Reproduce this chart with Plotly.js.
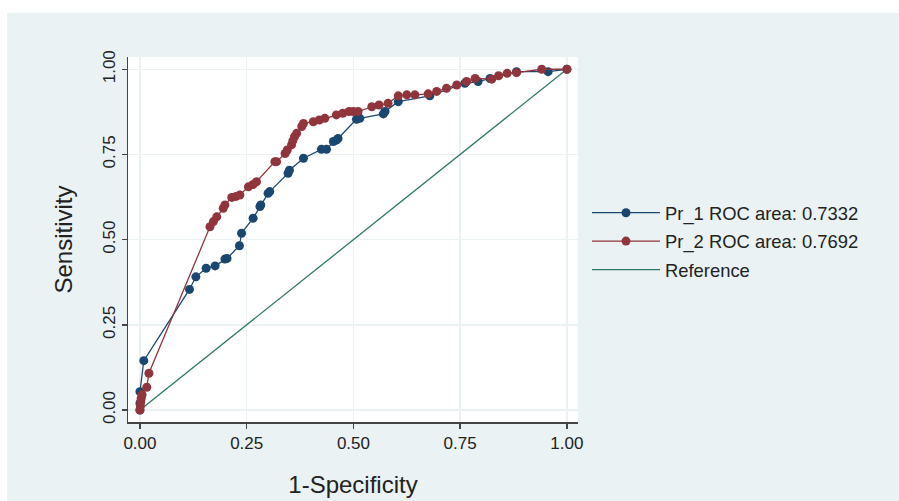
<!DOCTYPE html>
<html>
<head>
<meta charset="utf-8">
<script src="https://cdn.plot.ly/plotly-3.0.1.min.js"></script>
<style>
  html, body { margin: 0; padding: 0; background: #ffffff; }
  #chart { position: absolute; left: 7px; top: 13px; width: 892px; height: 488px; }
</style>
</head>
<body>
<div id="chart"></div>
<script>
// ---- Data ----
const fpr1 = [0, 0, 0, 0.009, 0.116, 0.131, 0.155, 0.176, 0.199, 0.204, 0.233, 0.238, 0.265, 0.281, 0.283, 0.300, 0.304, 0.347, 0.350, 0.383, 0.425, 0.437, 0.453, 0.460, 0.464, 0.507, 0.515, 0.570, 0.574, 0.605, 0.679, 0.761, 0.792, 0.820, 0.882, 0.956, 1];
const tpr1 = [0, 0.020, 0.054, 0.145, 0.354, 0.391, 0.416, 0.423, 0.443, 0.445, 0.482, 0.519, 0.563, 0.597, 0.602, 0.636, 0.641, 0.695, 0.704, 0.739, 0.765, 0.765, 0.788, 0.792, 0.797, 0.853, 0.856, 0.869, 0.876, 0.905, 0.922, 0.959, 0.964, 0.973, 0.993, 0.993, 1];

const fpr2 = [0, 0.001, 0.002, 0.003, 0.005, 0.016, 0.021, 0.164, 0.172, 0.180, 0.195, 0.199, 0.215, 0.225, 0.234, 0.254, 0.265, 0.273, 0.316, 0.320, 0.340, 0.345, 0.355, 0.358, 0.362, 0.367, 0.379, 0.383, 0.406, 0.420, 0.433, 0.460, 0.475, 0.490, 0.500, 0.511, 0.543, 0.560, 0.581, 0.605, 0.625, 0.644, 0.675, 0.695, 0.718, 0.742, 0.765, 0.785, 0.824, 0.840, 0.860, 0.882, 0.941, 1];
const tpr2 = [0, 0.012, 0.025, 0.035, 0.045, 0.067, 0.108, 0.538, 0.553, 0.567, 0.592, 0.602, 0.624, 0.627, 0.631, 0.655, 0.662, 0.670, 0.729, 0.729, 0.753, 0.763, 0.778, 0.790, 0.802, 0.812, 0.832, 0.841, 0.846, 0.851, 0.856, 0.866, 0.871, 0.876, 0.876, 0.876, 0.890, 0.895, 0.900, 0.922, 0.925, 0.925, 0.928, 0.935, 0.944, 0.954, 0.964, 0.973, 0.971, 0.981, 0.988, 0.990, 1.0, 1];

const refX = [0, 1];
const refY = [0, 1];

const seriesNames = ["Pr_1 ROC area: 0.7332", "Pr_2 ROC area: 0.7692", "Reference"];
const tickVals = [0, 0.25, 0.5, 0.75, 1];
const tickText = ["0.00", "0.25", "0.50", "0.75", "1.00"];

// ---- Styling ----
const FONT = "'Liberation Sans', Arial, Helvetica, sans-serif";
const BLUE = "#1a476f", RED = "#90353b", GREEN = "#2f7668";
const BG = "#eaf2f3";

const traces = [
  { x: refX, y: refY, type: "scatter", mode: "lines", name: seriesNames[2],
    line: { color: GREEN, width: 1.3 }, legendrank: 3, legendgroup: "c" },
  { x: fpr1, y: tpr1, type: "scatter", mode: "lines+markers", name: seriesNames[0],
    line: { color: BLUE, width: 1.3 }, marker: { color: BLUE, size: 9 }, legendrank: 1, legendgroup: "a" },
  { x: fpr2, y: tpr2, type: "scatter", mode: "lines+markers", name: seriesNames[1],
    line: { color: RED, width: 1.3 }, marker: { color: RED, size: 9 }, legendrank: 2, legendgroup: "b" }
];

const axisCommon = {
  tickvals: tickVals, ticktext: tickText,
  showgrid: true, gridcolor: BG, gridwidth: 1.5,
  zeroline: false,
  showline: true, linecolor: "#444", linewidth: 1.5,
  ticks: "outside", ticklen: 5, tickwidth: 1.5, tickcolor: "#444",
  tickfont: { family: FONT, size: 17, color: "#222" },
  automargin: false
};

const layout = {
  width: 892, height: 488,
  paper_bgcolor: BG, plot_bgcolor: "#ffffff",
  margin: { l: 121, r: 321, t: 44, b: 79 },
  font: { family: FONT, color: "#222" },
  showlegend: true,
  legend: {
    x: 1.02, xanchor: "left", y: 0.624, yanchor: "top",
    bgcolor: "rgba(0,0,0,0)", font: { family: FONT, size: 18.4, color: "#222" },
    itemwidth: 68, tracegroupgap: 1.5, traceorder: "grouped"
  },
  xaxis: Object.assign({}, axisCommon, {
    range: [-0.028, 1.026],
    title: { text: "1-Specificity", font: { family: FONT, size: 24, color: "#222" }, standoff: 24 }
  }),
  yaxis: Object.assign({}, axisCommon, {
    range: [-0.035, 1.036], tickangle: -90,
    title: { text: "Sensitivity", font: { family: FONT, size: 24, color: "#222" }, standoff: 20 }
  })
};

Plotly.newPlot("chart", traces, layout, { displayModeBar: false, staticPlot: true });
</script>
</body>
</html>
